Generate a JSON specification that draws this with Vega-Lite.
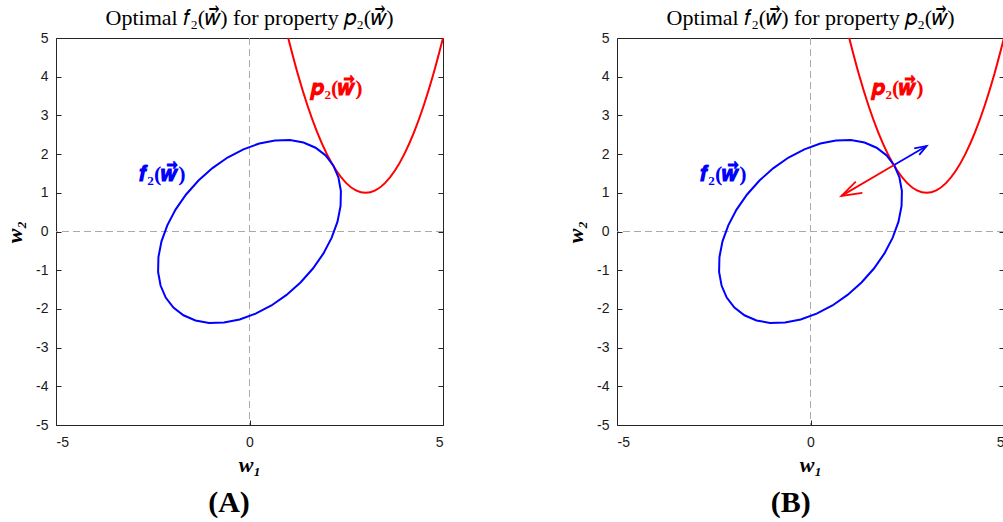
{
 "$schema": "https://vega.github.io/schema/vega-lite/v6.json",
 "background": "white",
 "padding": {"left": 3, "top": 6, "right": 0, "bottom": 0},
 "bounds": "flush",
 "spacing": 174,
 "datasets": {
  "zero": [{"v": 0}],
  "parab": [
   {"x": 1, "y": 5}, {"x": 1.25, "y": 4.0625}, {"x": 1.5, "y": 3.25}, {"x": 1.75, "y": 2.5625},
   {"x": 2, "y": 2}, {"x": 2.25, "y": 1.5625}, {"x": 2.5, "y": 1.25}, {"x": 2.75, "y": 1.0625},
   {"x": 3, "y": 1}, {"x": 3.25, "y": 1.0625}, {"x": 3.5, "y": 1.25}, {"x": 3.75, "y": 1.5625},
   {"x": 4, "y": 2}, {"x": 4.25, "y": 2.5625}, {"x": 4.5, "y": 3.25}, {"x": 4.75, "y": 4.0625},
   {"x": 5, "y": 5}
  ],
  "ell": [
   {"t": 0, "x": 1.966, "y": 1.966}, {"t": 1, "x": 2.165, "y": 1.707}, {"t": 2, "x": 2.298, "y": 1.396},
   {"t": 3, "x": 2.362, "y": 1.044}, {"t": 4, "x": 2.353, "y": 0.659}, {"t": 5, "x": 2.274, "y": 0.254},
   {"t": 6, "x": 2.124, "y": -0.158}, {"t": 7, "x": 1.911, "y": -0.567}, {"t": 8, "x": 1.639, "y": -0.957},
   {"t": 9, "x": 1.318, "y": -1.318}, {"t": 10, "x": 0.957, "y": -1.639}, {"t": 11, "x": 0.567, "y": -1.911},
   {"t": 12, "x": 0.158, "y": -2.124}, {"t": 13, "x": -0.254, "y": -2.274}, {"t": 14, "x": -0.659, "y": -2.353},
   {"t": 15, "x": -1.044, "y": -2.362}, {"t": 16, "x": -1.396, "y": -2.298}, {"t": 17, "x": -1.707, "y": -2.165},
   {"t": 18, "x": -1.966, "y": -1.966}, {"t": 19, "x": -2.165, "y": -1.707}, {"t": 20, "x": -2.298, "y": -1.396},
   {"t": 21, "x": -2.362, "y": -1.044}, {"t": 22, "x": -2.353, "y": -0.659}, {"t": 23, "x": -2.274, "y": -0.254},
   {"t": 24, "x": -2.124, "y": 0.158}, {"t": 25, "x": -1.911, "y": 0.567}, {"t": 26, "x": -1.639, "y": 0.957},
   {"t": 27, "x": -1.318, "y": 1.318}, {"t": 28, "x": -0.957, "y": 1.639}, {"t": 29, "x": -0.567, "y": 1.911},
   {"t": 30, "x": -0.158, "y": 2.124}, {"t": 31, "x": 0.254, "y": 2.274}, {"t": 32, "x": 0.659, "y": 2.353},
   {"t": 33, "x": 1.044, "y": 2.362}, {"t": 34, "x": 1.396, "y": 2.298}, {"t": 35, "x": 1.707, "y": 2.165},
   {"t": 36, "x": 1.966, "y": 1.966}
  ],
  "labels": [
   {"x": -2.25, "y": 1.48, "text": "𝒇₂(𝒘⃗)", "c": "f"},
   {"x": 2.25, "y": 3.7, "text": "𝒑₂(𝒘⃗)", "c": "p"}
  ],
  "arrows": [
   {"seg": "b1", "c": "f", "o": 0, "x": 2.16, "y": 1.72}, {"seg": "b1", "c": "f", "o": 1, "x": 3.0, "y": 2.21},
   {"seg": "b2", "c": "f", "o": 0, "x": 2.68, "y": 2.15}, {"seg": "b2", "c": "f", "o": 1, "x": 3.0, "y": 2.21}, {"seg": "b2", "c": "f", "o": 2, "x": 2.81, "y": 1.98},
   {"seg": "r1", "c": "p", "o": 0, "x": 2.16, "y": 1.72}, {"seg": "r1", "c": "p", "o": 1, "x": 0.8, "y": 0.92},
   {"seg": "r2", "c": "p", "o": 0, "x": 1.17, "y": 1.29}, {"seg": "r2", "c": "p", "o": 1, "x": 0.8, "y": 0.92}, {"seg": "r2", "c": "p", "o": 2, "x": 1.34, "y": 1.0}
  ]
 },
 "config": {
  "view": {"stroke": "#262626", "strokeWidth": 1},
  "axis": {"grid": false, "domain": false, "tickColor": "#262626", "tickSize": -5, "tickWidth": 1,
           "labelFont": "Liberation Sans", "labelFontSize": 14, "labelColor": "#1a1a1a",
           "labelExpr": "datum.value < 0 ? '-' + abs(datum.value) : '' + datum.value",
           "titleFont": "Liberation Serif", "titleFontSize": 22, "titleFontWeight": "bold", "titleFontStyle": "italic", "titleColor": "#000"},
  "title": {"font": "Liberation Serif", "fontSize": 22, "fontWeight": "normal", "color": "#000", "offset": 1},
  "line": {"strokeWidth": 2}
 },
 "hconcat": [
  {
   "width": 387, "height": 387,
   "title": "Optimal 𝑓₂(𝑤⃗) for property 𝑝₂(𝑤⃗)",
   "resolve": {"axis": {"y": "independent"}},
   "layer": [
    {"data": {"name": "zero"}, "mark": {"type": "rule", "color": "#aaaaaa", "strokeDash": [7, 4], "strokeWidth": 1},
     "encoding": {"x": {"field": "v", "type": "quantitative", "scale": {"domain": [-5, 5], "nice": false, "zero": false},
       "title": "w₁", "axis": {"values": [-5, 0, 5], "labelPadding": 15, "titlePadding": 5}}}},
    {"data": {"name": "zero"}, "mark": {"type": "rule", "color": "#aaaaaa", "strokeDash": [7, 4], "strokeWidth": 1},
     "encoding": {"y": {"field": "v", "type": "quantitative", "scale": {"domain": [-5, 5], "nice": false, "zero": false},
       "title": "w₂", "axis": {"orient": "left", "values": [-5, -4, -3, -2, -1, 0, 1, 2, 3, 4, 5], "labelPadding": 13, "titlePadding": 9}}}},
    {"data": {"name": "parab"}, "mark": {"type": "line", "color": "#ff0000", "interpolate": "monotone"},
     "encoding": {"x": {"field": "x", "type": "quantitative", "title": "w₁"},
       "y": {"field": "y", "type": "quantitative", "axis": {"orient": "right", "labels": false, "title": null, "values": [-5, -4, -3, -2, -1, 0, 1, 2, 3, 4, 5]}}}},
    {"data": {"name": "ell"}, "mark": {"type": "line", "color": "#0000ff"},
     "encoding": {"x": {"field": "x", "type": "quantitative", "title": "w₁"},
       "y": {"field": "y", "type": "quantitative", "axis": null}, "order": {"field": "t"}}},
    {"data": {"name": "labels"}, "mark": {"type": "text", "font": "Liberation Serif", "fontSize": 22, "fontWeight": "bold"},
     "encoding": {"x": {"field": "x", "type": "quantitative", "title": "w₁"},
       "y": {"field": "y", "type": "quantitative", "axis": null}, "text": {"field": "text"},
       "color": {"field": "c", "type": "nominal", "scale": {"domain": ["f", "p"], "range": ["#0000ff", "#ff0000"]}, "legend": null}}},
    {"data": {"values": [{"x": -0.53, "y": -7.02, "text": "(A)"}]}, "mark": {"type": "text", "font": "Liberation Serif", "fontSize": 30, "fontWeight": "bold", "color": "#000"},
     "encoding": {"x": {"field": "x", "type": "quantitative", "title": "w₁"},
       "y": {"field": "y", "type": "quantitative", "axis": null}, "text": {"field": "text"}}}
   ]
  },
  {
   "width": 387, "height": 387,
   "title": "Optimal 𝑓₂(𝑤⃗) for property 𝑝₂(𝑤⃗)",
   "resolve": {"axis": {"y": "independent"}},
   "layer": [
    {"data": {"name": "zero"}, "mark": {"type": "rule", "color": "#aaaaaa", "strokeDash": [7, 4], "strokeWidth": 1},
     "encoding": {"x": {"field": "v", "type": "quantitative", "scale": {"domain": [-5, 5], "nice": false, "zero": false},
       "title": "w₁", "axis": {"values": [-5, 0, 5], "labelPadding": 15, "titlePadding": 5}}}},
    {"data": {"name": "zero"}, "mark": {"type": "rule", "color": "#aaaaaa", "strokeDash": [7, 4], "strokeWidth": 1},
     "encoding": {"y": {"field": "v", "type": "quantitative", "scale": {"domain": [-5, 5], "nice": false, "zero": false},
       "title": "w₂", "axis": {"orient": "left", "values": [-5, -4, -3, -2, -1, 0, 1, 2, 3, 4, 5], "labelPadding": 13, "titlePadding": 9}}}},
    {"data": {"name": "parab"}, "mark": {"type": "line", "color": "#ff0000", "interpolate": "monotone"},
     "encoding": {"x": {"field": "x", "type": "quantitative", "title": "w₁"},
       "y": {"field": "y", "type": "quantitative", "axis": {"orient": "right", "labels": false, "title": null, "values": [-5, -4, -3, -2, -1, 0, 1, 2, 3, 4, 5]}}}},
    {"data": {"name": "ell"}, "mark": {"type": "line", "color": "#0000ff"},
     "encoding": {"x": {"field": "x", "type": "quantitative", "title": "w₁"},
       "y": {"field": "y", "type": "quantitative", "axis": null}, "order": {"field": "t"}}},
    {"data": {"name": "arrows"}, "mark": {"type": "line", "strokeWidth": 1.8},
     "encoding": {"x": {"field": "x", "type": "quantitative", "title": "w₁"},
       "y": {"field": "y", "type": "quantitative", "axis": null}, "order": {"field": "o"}, "detail": {"field": "seg"},
       "color": {"field": "c", "type": "nominal", "scale": {"domain": ["f", "p"], "range": ["#0000ff", "#ff0000"]}, "legend": null}}},
    {"data": {"name": "labels"}, "mark": {"type": "text", "font": "Liberation Serif", "fontSize": 22, "fontWeight": "bold"},
     "encoding": {"x": {"field": "x", "type": "quantitative", "title": "w₁"},
       "y": {"field": "y", "type": "quantitative", "axis": null}, "text": {"field": "text"},
       "color": {"field": "c", "type": "nominal", "scale": {"domain": ["f", "p"], "range": ["#0000ff", "#ff0000"]}, "legend": null}}},
    {"data": {"values": [{"x": -0.51, "y": -7.02, "text": "(B)"}]}, "mark": {"type": "text", "font": "Liberation Serif", "fontSize": 30, "fontWeight": "bold", "color": "#000"},
     "encoding": {"x": {"field": "x", "type": "quantitative", "title": "w₁"},
       "y": {"field": "y", "type": "quantitative", "axis": null}, "text": {"field": "text"}}}
   ]
  }
 ]
}
